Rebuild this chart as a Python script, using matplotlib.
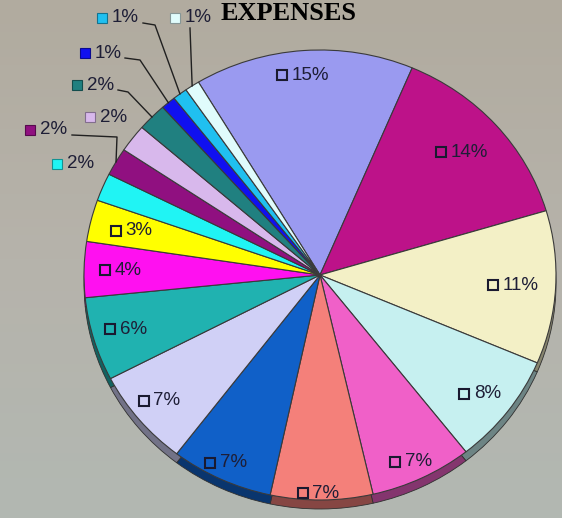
import numpy as np
import matplotlib.pyplot as plt
from matplotlib.colors import to_rgb, LinearSegmentedColormap

# slice shares (%) clockwise from the big lavender slice at the top
shares = [15, 14, 11, 8, 7, 7, 7, 7, 6, 4, 3, 2, 2, 2, 2, 1, 1, 1]
labels = [f'{v}%' for v in shares]
colors = ['#9a9af0', '#bd1289', '#f3f0c6', '#c6f0f0', '#f060c8', '#f4807a',
          '#1060c8', '#d0d0f6', '#20b2b0', '#ff10f0', '#ffff00', '#20f4f4',
          '#901080', '#d8b8ec', '#208080', '#1010f0', '#20c0f0', '#e0fcfc']

bg = '#b3aea6'
txt = '#1e1e36'
fsize = 13.5

# pie centre and radii in pixels (pie is slightly squashed)
CX, CY, RX, RY = 320, 275, 236, 225


def to_data(px, py):
    return (px - CX) / RX, (CY - py) / RY


fig = plt.figure(figsize=(5.62, 5.18), dpi=100)
fig.patch.set_facecolor(bg)

# soft background wash: warm at the top, a bit greener at the bottom
bax = fig.add_axes([0, 0, 1, 1], zorder=-1)
wash = LinearSegmentedColormap.from_list('wash', ['#b1ab9f', '#b6b3ab', '#b2b8b2'])
bax.imshow(np.linspace(0, 1, 64).reshape(-1, 1), cmap=wash, aspect='auto',
           extent=(0, 1, 0, 1), origin='upper')
bax.axis('off')

ax = fig.add_axes([0, 0, 1, 1])
ax.patch.set_alpha(0)

# darker copy shifted down gives the thin 3D rim
dark = [tuple(c * 0.55 for c in to_rgb(col)) for col in colors]
ax.pie(shares, colors=dark, startangle=121, counterclock=False, center=(0, -0.04),
       wedgeprops=dict(edgecolor='#303030', linewidth=0.6))
wedges, _ = ax.pie(shares, colors=colors, startangle=121, counterclock=False,
                   wedgeprops=dict(edgecolor='#3a3a3a', linewidth=0.8))

ax.set_aspect('auto')
ax.set_xlim(to_data(0, 0)[0], to_data(562, 0)[0])
ax.set_ylim(to_data(0, 518)[1], to_data(0, 0)[1])
ax.axis('off')

# labels inside the big slices
inner_r = [0.89, 0.82, 0.83, 0.87, 0.92, 0.97, 0.92, 0.87, 0.845, 0.83, 0.81]
for i, r in enumerate(inner_r):
    w = wedges[i]
    ang = np.deg2rad((w.theta1 + w.theta2) / 2)
    gpx = CX + r * np.cos(ang) * RX
    gpy = CY - r * np.sin(ang) * RY
    mx = gpx - (23 if len(labels[i]) > 2 else 19)
    ax.plot(*to_data(mx, gpy), marker='s', ms=7, mfc=colors[i], mec='#1a1a30', mew=1.5)
    ax.annotate(labels[i], to_data(mx, gpy), xytext=(7, 0), textcoords='offset points',
                va='center', ha='left', fontsize=fsize, color=txt, family='Liberation Sans')

# labels outside for the small slices, with leader lines
outer = {11: (57, 164), 12: (30, 130), 13: (90, 117), 14: (77, 85),
         15: (85, 53), 16: (102, 18), 17: (175, 18)}
leaders = {12: [(72, 135), (117, 137)], 14: [(118, 90), (128, 92)],
           15: [(125, 58), (140, 60)], 16: [(143, 23), (155, 25)], 17: [(190, 28)]}
for i, (px, py) in outer.items():
    ax.plot(*to_data(px, py), marker='s', ms=7, mfc=colors[i],
            mec=tuple(c * 0.6 for c in to_rgb(colors[i])), mew=0.8, clip_on=False)
    ax.annotate(labels[i], to_data(px, py), xytext=(7, 0), textcoords='offset points',
                va='center', ha='left', fontsize=fsize, color=txt, family='Liberation Sans')
    if i in leaders:
        w = wedges[i]
        ang = np.deg2rad((w.theta1 + w.theta2) / 2)
        pts = [to_data(x, y) for x, y in leaders[i]] + [(np.cos(ang), np.sin(ang))]
        xs, ys = zip(*pts)
        ax.plot(xs, ys, color='#202020', lw=1.0, clip_on=False)

fig.text(289 / 562, 1 - 20 / 518, 'EXPENSES', ha='center', va='baseline',
         fontsize=19, fontweight='bold', family='Liberation Serif', color='black')

fig.savefig('out.png', dpi=100, facecolor=bg)
